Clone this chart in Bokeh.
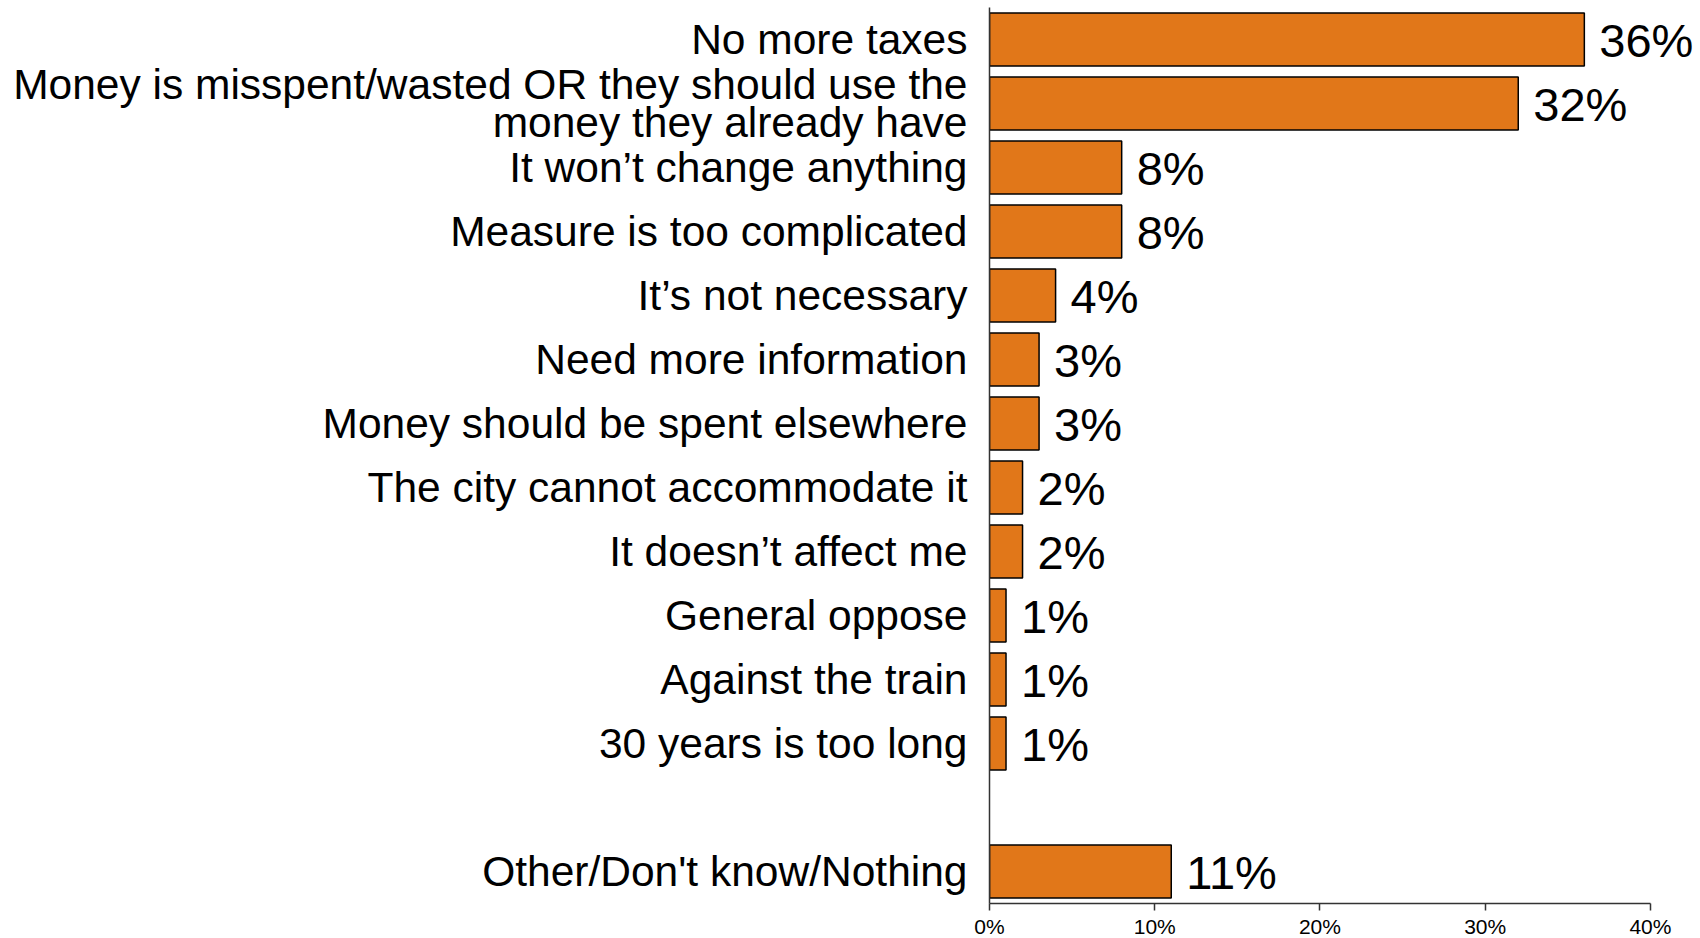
from bokeh.plotting import figure
from bokeh.models import FactorRange, Range1d, ColumnDataSource, FixedTicker, PrintfTickFormatter
from bokeh.core.properties import value
from bokeh.embed import file_html
from bokeh.resources import INLINE

categories = [
    "No more taxes",
    "Money is misspent/wasted OR they should use the\nmoney they already have",
    "It won\u2019t change anything",
    "Measure is too complicated",
    "It\u2019s not necessary",
    "Need more information",
    "Money should be spent elsewhere",
    "The city cannot accommodate it",
    "It doesn\u2019t affect me",
    "General oppose",
    "Against the train",
    "30 years is too long",
    "Other/Don't know/Nothing",
]
values = [36, 32, 8, 8, 4, 3, 3, 2, 2, 1, 1, 1, 11]
x_ticks = [0, 10, 20, 30, 40]
gap_factor = " "

FONT = "Liberation Sans"
BAR = "#E17719"

factors = categories[:12] + [gap_factor] + categories[12:]
y_range = FactorRange(factors=list(reversed(factors)), range_padding=0)

p = figure(
    y_range=y_range,
    x_range=Range1d(0, 43.03),
    frame_width=711, frame_height=896,
    min_border_left=989, min_border_right=0, min_border_top=7, min_border_bottom=30,
    output_backend="svg", toolbar_location=None,
)

src = ColumnDataSource(dict(y=categories, v=values, lbl=[f"{v}%" for v in values]))
p.hbar(y="y", right="v", left=0, height=0.83, source=src,
       fill_color=BAR, line_color="black", line_width=1.5)
p.text(x="v", y="y", text="lbl", source=src, x_offset=15, y_offset=1,
       text_font=value(FONT), text_font_size="47px", text_color="black",
       text_align="left", text_baseline="middle")

p.outline_line_color = None
p.xgrid.grid_line_color = None
p.ygrid.grid_line_color = None

xa = p.xaxis[0]
xa.ticker = FixedTicker(ticks=x_ticks)
xa.formatter = PrintfTickFormatter(format="%d%%")
xa.bounds = (0, 40)
xa.axis_line_color = "#333333"
xa.axis_line_width = 1.5
xa.major_tick_line_color = "#333333"
xa.major_tick_line_width = 1.5
xa.major_tick_out = 7
xa.major_tick_in = 0
xa.minor_tick_line_color = None
xa.major_label_text_font = FONT
xa.major_label_text_font_size = "21px"
xa.major_label_text_color = "black"
xa.major_label_standoff = 4

ya = p.yaxis[0]
ya.axis_line_color = "#333333"
ya.axis_line_width = 1.5
ya.major_tick_line_color = None
ya.minor_tick_line_color = None
ya.major_label_text_font = FONT
ya.major_label_text_font_size = "42.5px"
ya.major_label_text_color = "black"
ya.major_label_text_line_height = 0.82
ya.major_label_standoff = 16

open("out.html", "w").write(file_html(p, INLINE))
